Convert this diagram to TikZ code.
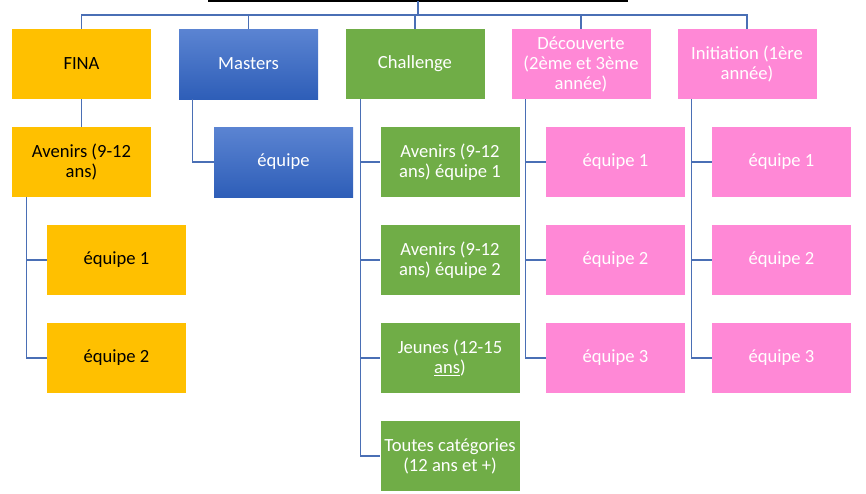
\documentclass[tikz,border=0pt]{standalone}
\usepackage{fontspec}
\setmainfont{Carlito}
\usetikzlibrary{calc}
\definecolor{gold}{HTML}{FFC000}
\definecolor{mblue}{HTML}{4472C4}
\definecolor{mbluetop}{HTML}{5B84D2}
\definecolor{mbluebot}{HTML}{2E5EB8}
\definecolor{cgreen}{HTML}{70AD47}
\definecolor{cpink}{HTML}{FF88D6}
\definecolor{lineblue}{HTML}{4A6FB5}
\begin{document}
\begin{tikzpicture}[x=1pt,y=-1pt,
  box/.style={minimum width=139pt,minimum height=70pt,inner sep=2pt,align=center,
    font=\fontsize{18.6}{20}\selectfont},
  fina/.style={box,fill=gold,text=black},
  mast/.style={box,top color=mbluetop,bottom color=mbluebot,text=white},
  chal/.style={box,fill=cgreen,text=white},
  pink/.style={box,fill=cpink,text=white},
  conn/.style={draw=lineblue,line width=1.2pt}]
\useasboundingbox (0,0) rectangle (866,493);
% top-level
\node[fina] (fina) at (81.5,64) {FINA};
\node[mast] (mast) at (248.5,64) {Masters};
\node[chal] (chal) at (415,64) {Challenge};
\node[pink] (dec) at (581,64) {Découverte\\(2ème et 3ème\\année)};
\node[pink] (ini) at (747,64) {Initiation (1ère\\année)};
% FINA branch
\node[fina] (fav) at (81.5,162) {Avenirs (9-12\\ans)};
\node[fina] (feq1) at (116.5,260) {équipe 1};
\node[fina] (feq2) at (116.5,358) {équipe 2};
% Masters
\node[mast] (meq) at (283.5,162) {équipe};
% Challenge
\node[chal] (c1) at (450,162) {Avenirs (9-12\\ans) équipe 1};
\node[chal] (c2) at (450,260) {Avenirs (9-12\\ans) équipe 2};
\node[chal] (c3) at (450,358) {Jeunes (12-15\\\underline{ans})};
\node[chal] (c4) at (450,456) {Toutes catégories\\(12 ans et +)};
% Découverte
\node[pink] (d1) at (615.5,162) {équipe 1};
\node[pink] (d2) at (615.5,260) {équipe 2};
\node[pink] (d3) at (615.5,358) {équipe 3};
% Initiation
\node[pink] (i1) at (781.5,162) {équipe 1};
\node[pink] (i2) at (781.5,260) {équipe 2};
\node[pink] (i3) at (781.5,358) {équipe 3};
% root remnant
\coordinate (rl) at (208,1);
\coordinate (rr) at (628,1);
\coordinate (root) at (418,1);
\draw[black,line width=1.6pt] (rl) -- (rr);
\draw[conn] (root) -- ++(0,14) coordinate (bar);
\foreach \n in {fina,mast,chal,dec,ini}{\draw[conn] (bar) -| (\n.north);}
% children
\draw[conn] (fina.south) -- (fav.north);
\foreach \c in {feq1,feq2}{\draw[conn] ($(fav.south west)+(15,0)$) |- (\c.west);}
\draw[conn] ($(mast.south west)+(14,0)$) |- (meq.west);
\foreach \c in {c1,c2,c3,c4}{\draw[conn] ($(chal.south west)+(15,0)$) |- (\c.west);}
\foreach \c in {d1,d2,d3}{\draw[conn] ($(dec.south west)+(14,0)$) |- (\c.west);}
\foreach \c in {i1,i2,i3}{\draw[conn] ($(ini.south west)+(14,0)$) |- (\c.west);}
\end{tikzpicture}
\end{document}
